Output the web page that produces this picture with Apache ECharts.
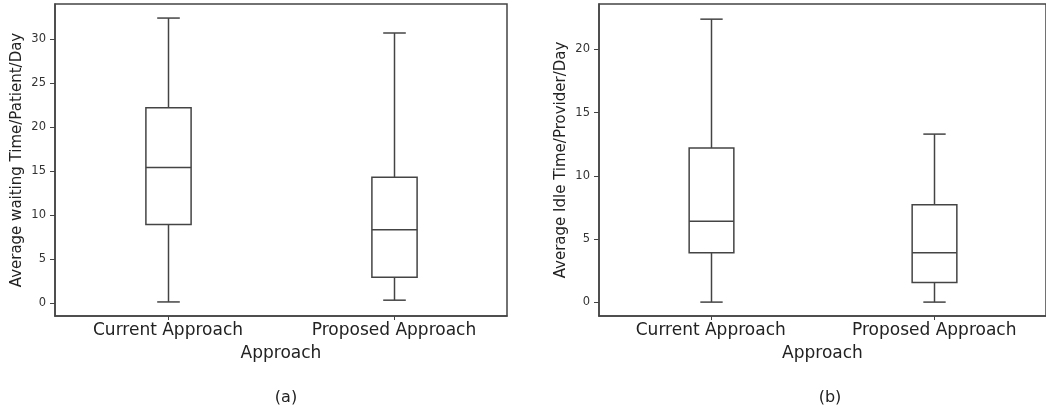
<!DOCTYPE html>
<html>
<head>
<meta charset="utf-8">
<script src="https://cdn.jsdelivr.net/npm/echarts@6/dist/echarts.min.js"></script>
<style>
  html, body { margin: 0; padding: 0; background: #fff; }
  #chart { width: 1046px; height: 410px; }
</style>
</head>
<body>
<div id="chart"></div>
<script>
// categories on both panels
const categories = ['Current Approach', 'Proposed Approach']

// [lower whisker, Q1, median, Q3, upper whisker]
const waitingCurrent = [0.1, 8.9, 15.4, 22.2, 32.4]
const waitingProposed = [0.3, 2.9, 8.3, 14.3, 30.7]
const idleCurrent = [0.0, 3.9, 6.4, 12.2, 22.4]
const idleProposed = [0.0, 1.55, 3.9, 7.7, 13.3]

// tick labels
const waitingTicks = [0, 5, 10, 15, 20, 25, 30]
const idleTicks = [0, 5, 10, 15, 20]

const lineColor = '#444'
const font = 'DejaVu Sans'

// matplotlib-like box: box width 0.2 of the band, caps half that
function renderBox(params, api) {
  const x = api.value(0)
  const lo = api.coord([x, api.value(1)])
  const q1 = api.coord([x, api.value(2)])
  const med = api.coord([x, api.value(3)])
  const q3 = api.coord([x, api.value(4)])
  const hi = api.coord([x, api.value(5)])
  const band = api.size([1, 0])[0]
  const bw = band * 0.2
  const cw = band * 0.1
  const cx = Math.round(lo[0]) + 0.5
  const style = { stroke: lineColor, lineWidth: 1.5, fill: null }
  return {
    type: 'group',
    children: [
      { type: 'line', shape: { x1: cx, y1: q3[1], x2: cx, y2: hi[1] }, style },
      { type: 'line', shape: { x1: cx, y1: q1[1], x2: cx, y2: lo[1] }, style },
      { type: 'line', shape: { x1: cx - cw / 2, y1: hi[1], x2: cx + cw / 2, y2: hi[1] }, style },
      { type: 'line', shape: { x1: cx - cw / 2, y1: lo[1], x2: cx + cw / 2, y2: lo[1] }, style },
      { type: 'rect', shape: { x: cx - bw / 2, y: q3[1], width: bw, height: q1[1] - q3[1] }, style: { stroke: lineColor, lineWidth: 1.5, fill: '#fff' } },
      { type: 'line', shape: { x1: cx - bw / 2, y1: med[1], x2: cx + bw / 2, y2: med[1] }, style }
    ]
  }
}

function toItems(list) {
  return list.map((s, i) => [i].concat(s))
}

function xAxisFor(gridIndex) {
  return {
    type: 'category',
    gridIndex: gridIndex,
    data: categories,
    name: 'Approach',
    nameLocation: 'middle',
    nameGap: 29,
    nameTextStyle: { fontFamily: font, fontSize: 17, color: '#222' },
    axisLine: { show: true, onZero: false, lineStyle: { color: lineColor, width: 1.5 } },
    axisTick: { show: true, alignWithLabel: true, length: 4, lineStyle: { color: lineColor } },
    axisLabel: { fontFamily: font, fontSize: 17, color: '#222', margin: 6 },
    splitLine: { show: false }
  }
}

function yAxisFor(gridIndex, name, min, max, ticks) {
  return {
    type: 'value',
    gridIndex: gridIndex,
    min: min,
    max: max,
    name: name,
    nameLocation: 'middle',
    nameRotate: 90,
    nameGap: 30,
    nameTextStyle: { fontFamily: font, fontSize: 15, color: '#222' },
    axisLine: { show: true, onZero: false, lineStyle: { color: lineColor, width: 1.5 } },
    axisTick: { show: true, length: 5, customValues: ticks, lineStyle: { color: lineColor } },
    axisLabel: { fontFamily: font, fontSize: 11.5, color: '#333', margin: 9, customValues: ticks },
    splitLine: { show: false }
  }
}

const chart = echarts.init(document.getElementById('chart'))
chart.setOption({
  animation: false,
  backgroundColor: '#fff',
  title: [
    { text: '(a)', left: 281, top: 385, textAlign: 'center', textStyle: { fontFamily: font, fontSize: 16, fontWeight: 'normal', color: '#222' } },
    { text: '(b)', left: 825, top: 385, textAlign: 'center', textStyle: { fontFamily: font, fontSize: 16, fontWeight: 'normal', color: '#222' } }
  ],
  grid: [
    { left: 55, top: 4, width: 452, height: 312, show: true, borderColor: lineColor, borderWidth: 1.5 },
    { left: 599, top: 4, width: 452, height: 312, show: true, borderColor: lineColor, borderWidth: 1.5 }
  ],
  xAxis: [xAxisFor(0), xAxisFor(1)],
  yAxis: [
    yAxisFor(0, 'Average waiting Time/Patient/Day', -1.5, 34, waitingTicks),
    yAxisFor(1, 'Average Idle Time/Provider/Day', -1.1, 23.6, idleTicks)
  ],
  series: [
    {
      type: 'custom',
      xAxisIndex: 0,
      yAxisIndex: 0,
      renderItem: renderBox,
      encode: { x: 0, y: [1, 2, 3, 4, 5] },
      data: toItems([waitingCurrent, waitingProposed])
    },
    {
      type: 'custom',
      xAxisIndex: 1,
      yAxisIndex: 1,
      renderItem: renderBox,
      encode: { x: 0, y: [1, 2, 3, 4, 5] },
      data: toItems([idleCurrent, idleProposed])
    }
  ]
})
</script>
</body>
</html>
